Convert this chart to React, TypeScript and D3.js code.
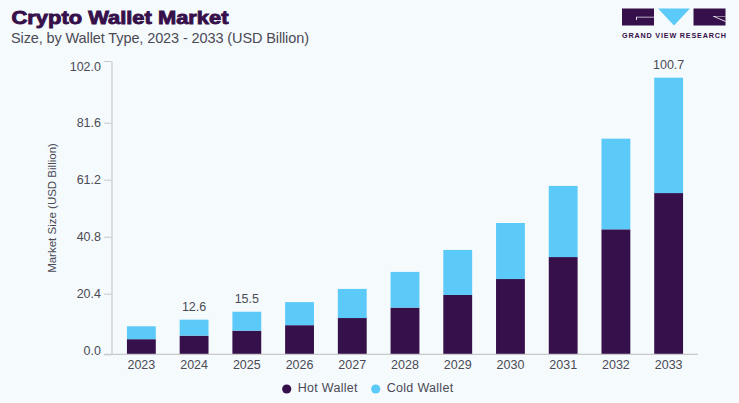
import React, { useEffect, useRef } from "react";
import { select, scaleBand, scaleLinear, stack, axisLeft, axisBottom } from "d3";

const years = ["2023", "2024", "2025", "2026", "2027", "2028", "2029", "2030", "2031", "2032", "2033"];
const hotWallet = [5.5, 6.8, 8.6, 10.6, 13.2, 17.0, 21.6, 27.4, 35.4, 45.5, 58.7];
const coldWallet = [4.7, 5.8, 6.9, 8.4, 10.6, 13.0, 16.4, 20.4, 25.9, 33.0, 42.0];
const yTicks = [0, 20.4, 40.8, 61.2, 81.6, 102];
const totalLabels: Record<string, string> = { "2024": "12.6", "2025": "15.5", "2033": "100.7" };
const seriesNames = ["Hot Wallet", "Cold Wallet"];

const width = 739;
const height = 403;
const bg = "#f5fafd";
const hotColor = "#36104a";
const coldColor = "#5ccaf9";
const textColor = "#4b4a55";
const axisColor = "#c9c9cb";
const font = "'Liberation Sans', Arial, sans-serif";

export default function App() {
  const svgRef = useRef<SVGSVGElement | null>(null);

  useEffect(() => {
    const svg = select(svgRef.current);
    svg.selectAll("*").remove();

    svg.append("rect").attr("width", width).attr("height", height).attr("fill", bg);

    // title
    svg.append("text").attr("x", 11.5).attr("y", 24).attr("fill", hotColor)
      .attr("font-family", font).attr("font-weight", 700)
      .attr("font-size", 18.5).attr("stroke", hotColor).attr("stroke-width", 0.9)
      .attr("textLength", 217).attr("lengthAdjust", "spacingAndGlyphs")
      .text("Crypto Wallet Market");
    svg.append("text").attr("x", 11).attr("y", 43).attr("fill", textColor)
      .attr("font-family", font).attr("font-size", 14.5)
      .attr("textLength", 298)
      .text("Size, by Wallet Type, 2023 - 2033 (USD Billion)");

    // logo
    const logo = svg.append("g");
    logo.append("rect").attr("x", 622).attr("y", 8.5).attr("width", 32).attr("height", 17).attr("fill", hotColor);
    logo.append("path").attr("d", "M636,17.5H654V16.8H636V20H637V17.5Z").attr("fill", "#e8e4ec");
    logo.append("path").attr("d", "M658,8.5H690L674,25.5Z").attr("fill", coldColor);
    logo.append("rect").attr("x", 693.5).attr("y", 8.5).attr("width", 32).attr("height", 17).attr("fill", hotColor);
    logo.append("path").attr("d", "M713,16.5L725.5,22V21L715,16.5H725.5V16H713Z").attr("fill", "#e8e4ec");
    logo.append("text").attr("x", 622).attr("y", 37.5).attr("fill", hotColor)
      .attr("font-family", font).attr("font-weight", 700).attr("font-size", 7.2)
      .attr("textLength", 104).text("GRAND VIEW RESEARCH");

    const x = scaleBand<string>().domain(years).range([115, 695])
      .paddingInner(0.453).paddingOuter(0.2265);
    // bars run on their own scale, the printed ticks do not line up with it
    const y = scaleLinear().domain([0, 100.7]).range([354.3, 77.7]);
    const tickY = scaleLinear().domain([0, 20.4, 81.6, 102]).range([354.3, 293.7, 122.7, 61]);

    const rows = years.map((year, i) => ({ year, hot: hotWallet[i], cold: coldWallet[i] }));
    const layers = stack<any>().keys(["hot", "cold"])(rows);

    svg.append("g").selectAll("g").data(layers).join("g")
      .attr("fill", (_, i) => (i === 0 ? hotColor : coldColor))
      .selectAll("rect").data((d) => d).join("rect")
      .attr("x", (d) => x(d.data.year)!)
      .attr("width", x.bandwidth())
      .attr("y", (d) => y(d[1]))
      .attr("height", (d) => y(d[0]) - y(d[1]));

    // y axis
    const gy = svg.append("g").attr("transform", "translate(111.5,0)")
      .call(axisLeft(tickY).tickValues(yTicks).tickSize(7.5).tickSizeOuter(0).tickPadding(3).tickFormat((d: any) => d.toFixed(1)));
    gy.select(".domain").attr("stroke", axisColor).attr("stroke-width", 1.2);
    gy.selectAll("line").attr("stroke", axisColor);
    gy.selectAll("text").attr("fill", textColor).attr("font-family", font).attr("font-size", 12.5)
      .attr("dy", (d: any) => (d === 102 ? "0.72em" : d === 0 ? "0.02em" : "0.32em"));

    // x axis
    const gx = svg.append("g").attr("transform", "translate(0,354.3)")
      .call(axisBottom(x).tickSize(0).tickPadding(6));
    gx.select(".domain").remove();
    gx.append("line").attr("x1", 104).attr("x2", 698).attr("stroke", axisColor).attr("stroke-width", 1.2);
    gx.selectAll("text").attr("fill", textColor).attr("font-family", font).attr("font-size", 12.5);

    // labels over some of the bars
    svg.append("g").selectAll("text").data(rows.filter((r) => totalLabels[r.year])).join("text")
      .attr("x", (d) => x(d.year)! + x.bandwidth() / 2)
      .attr("y", (d) => y(d.hot + d.cold) - 9)
      .attr("text-anchor", "middle").attr("fill", textColor)
      .attr("font-family", font).attr("font-size", 12.5)
      .text((d) => totalLabels[d.year]);

    svg.append("text").attr("transform", "translate(55.5,208) rotate(-90)")
      .attr("text-anchor", "middle").attr("fill", textColor)
      .attr("font-family", font).attr("font-size", 11.5)
      .text("Market Size (USD Billion)");

    // legend
    const legendX = [286.7, 375.7];
    const legend = svg.append("g").selectAll("g").data(seriesNames).join("g")
      .attr("transform", (_, i) => `translate(${legendX[i]},389)`);
    legend.append("circle").attr("r", 4.6).attr("fill", (_, i) => (i === 0 ? hotColor : coldColor));
    legend.append("text").attr("x", 11).attr("y", -1.5).attr("dy", "0.32em")
      .attr("fill", textColor).attr("font-family", font).attr("font-size", 12.5)
      .attr("letter-spacing", 0.3)
      .text((d) => d);
  }, []);

  return (
    <svg ref={svgRef} width={width} height={height}
      style={{ position: "absolute", top: 0, left: 0, display: "block" }} />
  );
}
